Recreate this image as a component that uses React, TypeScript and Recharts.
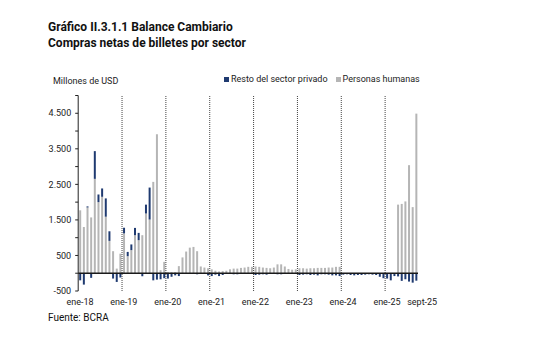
import React from 'react';
import { BarChart, Bar, XAxis, YAxis, ReferenceLine } from 'recharts';

const MONTHS = ['ene', 'feb', 'mar', 'abr', 'may', 'jun', 'jul', 'ago', 'sept', 'oct', 'nov', 'dic'];
const YEARS = ['18', '19', '20', '21', '22', '23', '24', '25'];
const categories = YEARS.flatMap((y) => MONTHS.map((m) => `${m}-${y}`)).slice(0, 93);

// Personas humanas (millones de USD), ene-18 .. sept-25
const personas2018 = [1770, 1300, 1850, 1570, 2655, 2000, 2150, 1590, 910, 620, 130, 550];
const personas2019 = [1120, 480, 650, 1070, 930, 1070, 1680, 1510, 2570, 3910, 85, 320];
const personas2020 = [30, 30, 30, 200, 445, 610, 720, 740, 620, 190, 160, 140];
const personas2021 = [110, 70, 50, 60, 70, 110, 130, 130, 150, 160, 180, 180];
const personas2022 = [190, 180, 160, 150, 140, 160, 250, 250, 190, 120, 100, 110];
const personas2023 = [140, 140, 130, 140, 140, 150, 150, 150, 160, 160, 180, 180];
const personas2024 = [0, 0, 0, 0, 0, 0, 0, 0, 0, 0, 0, 0];
const personas2025 = [0, 0, 0, 1930, 1950, 2020, 3040, 1860, 4490];

// Resto del sector privado (millones de USD)
const resto2018 = [-200, -320, 30, -130, 780, 215, 235, 515, 270, -150, -245, -120];
const resto2019 = [160, 120, 160, 205, 205, -85, 250, 900, -200, -180, -170, -140];
const resto2020 = [-150, -100, -60, -80, -20, 0, 0, 0, -30, 0, -20, -60];
const resto2021 = [-80, -40, -80, -50, -20, -20, -30, -30, -20, -20, -20, -20];
const resto2022 = [-50, -40, -30, -40, -20, -20, -30, -30, -20, -20, -20, -20];
const resto2023 = [-50, -40, -30, -50, -40, -60, -30, -30, -40, -60, -60, -80];
const resto2024 = [-40, -30, -50, -60, -50, -50, -40, -30, -40, -50, -100, -140];
const resto2025 = [-150, -200, -80, -90, -215, -170, -235, -265, -210];

const personasHumanas = [
  ...personas2018, ...personas2019, ...personas2020, ...personas2021,
  ...personas2022, ...personas2023, ...personas2024, ...personas2025,
];
const restoSectorPrivado = [
  ...resto2018, ...resto2019, ...resto2020, ...resto2021,
  ...resto2022, ...resto2023, ...resto2024, ...resto2025,
];

const xTickLabels = ['ene-18', 'ene-19', 'ene-20', 'ene-21', 'ene-22', 'ene-23', 'ene-24', 'ene-25', 'sept-25'];
const yearStarts = ['ene-19', 'ene-20', 'ene-21', 'ene-22', 'ene-23', 'ene-24', 'ene-25'];
const yTicks = [-500, 0, 500, 1000, 1500, 2000, 2500, 3000, 3500, 4000, 4500, 5000];
const yLabelTicks = [-500, 500, 1500, 2500, 3500, 4500];

const data = categories.map((c, i) => ({
  cat: c,
  personas: personasHumanas[i],
  resto: restoSectorPrivado[i],
}));

const GRAY = '#b5b5b5';
const NAVY = '#1f3a70';
const FONT = 'Roboto, "Noto Sans", sans-serif';

const fmt = (v: number) => {
  if (!yLabelTicks.includes(v)) return '';
  const s = String(Math.abs(v)).replace(/\B(?=(\d{3})+(?!\d))/g, '.');
  return v < 0 ? `-${s}` : s;
};

const XTick = (props: any) => {
  const { x, y, payload } = props;
  const shift = payload.value === 'sept-25' ? 6 : 0;
  return (
    <text x={x + shift} y={y} dy="0.71em" textAnchor="middle" fontSize={9} fill="#222" fontFamily={FONT}>
      {payload.value}
    </text>
  );
};

export default function App() {
  return (
    <div style={{ position: 'absolute', left: 0, top: 0, width: 534, height: 351, background: '#fff', fontFamily: FONT }}>
      <div style={{ position: 'absolute', left: 48, top: 20, fontSize: 12, fontWeight: 700, lineHeight: '14px', color: '#111' }}>
        Gráfico II.3.1.1 Balance Cambiario
      </div>
      <div style={{ position: 'absolute', left: 48, top: 36, fontSize: 12, fontWeight: 700, lineHeight: '14px', color: '#111' }}>
        Compras netas de billetes por sector
      </div>
      <div style={{ position: 'absolute', left: 53, top: 76, fontSize: 9, lineHeight: '11px', color: '#222' }}>
        Millones de USD
      </div>
      <div style={{ position: 'absolute', left: 224, top: 74, fontSize: 9, lineHeight: '11px', color: '#222', display: 'flex', alignItems: 'center' }}>
        <span style={{ display: 'inline-block', width: 5, height: 5, background: NAVY, marginRight: 2 }} />
        <span>Resto del sector privado</span>
        <span style={{ display: 'inline-block', width: 5, height: 5, background: GRAY, marginLeft: 8, marginRight: 2 }} />
        <span>Personas humanas</span>
      </div>
      <div style={{ position: 'absolute', left: 48, top: 312, fontSize: 10, lineHeight: '12px', color: '#111' }}>
        Fuente: BCRA
      </div>
      <div style={{ position: 'absolute', left: 0, top: 0 }}>
        <BarChart
          width={534}
          height={351}
          data={data}
          stackOffset="sign"
          margin={{ top: 95.5, right: 116, left: 0, bottom: 40 }}
          barCategoryGap={0}
        >
          <XAxis
            dataKey="cat"
            ticks={xTickLabels}
            interval={0}
            axisLine={false}
            tickLine={false}
            height={20}
            tick={<XTick />}
          />
          <YAxis
            type="number"
            domain={[-500, 5000]}
            ticks={yTicks}
            interval={0}
            width={78.2}
            tickSize={3}
            tickMargin={4}
            tickFormatter={fmt}
            axisLine={{ stroke: '#222', strokeWidth: 1 }}
            tickLine={{ stroke: '#222' }}
            tick={{ fontSize: 9, fill: '#222', fontFamily: FONT }}
          />
          {yearStarts.map((c) => (
            <ReferenceLine key={c} x={c} position="start" stroke="#444" strokeDasharray="1 1" strokeWidth={1} />
          ))}
          <Bar dataKey="personas" stackId="a" fill={GRAY} barSize={2} isAnimationActive={false} />
          <Bar dataKey="resto" stackId="a" fill={NAVY} barSize={2} isAnimationActive={false} />
          <ReferenceLine y={0} stroke="#1a1a1a" strokeWidth={1.5} />
        </BarChart>
      </div>
    </div>
  );
}
